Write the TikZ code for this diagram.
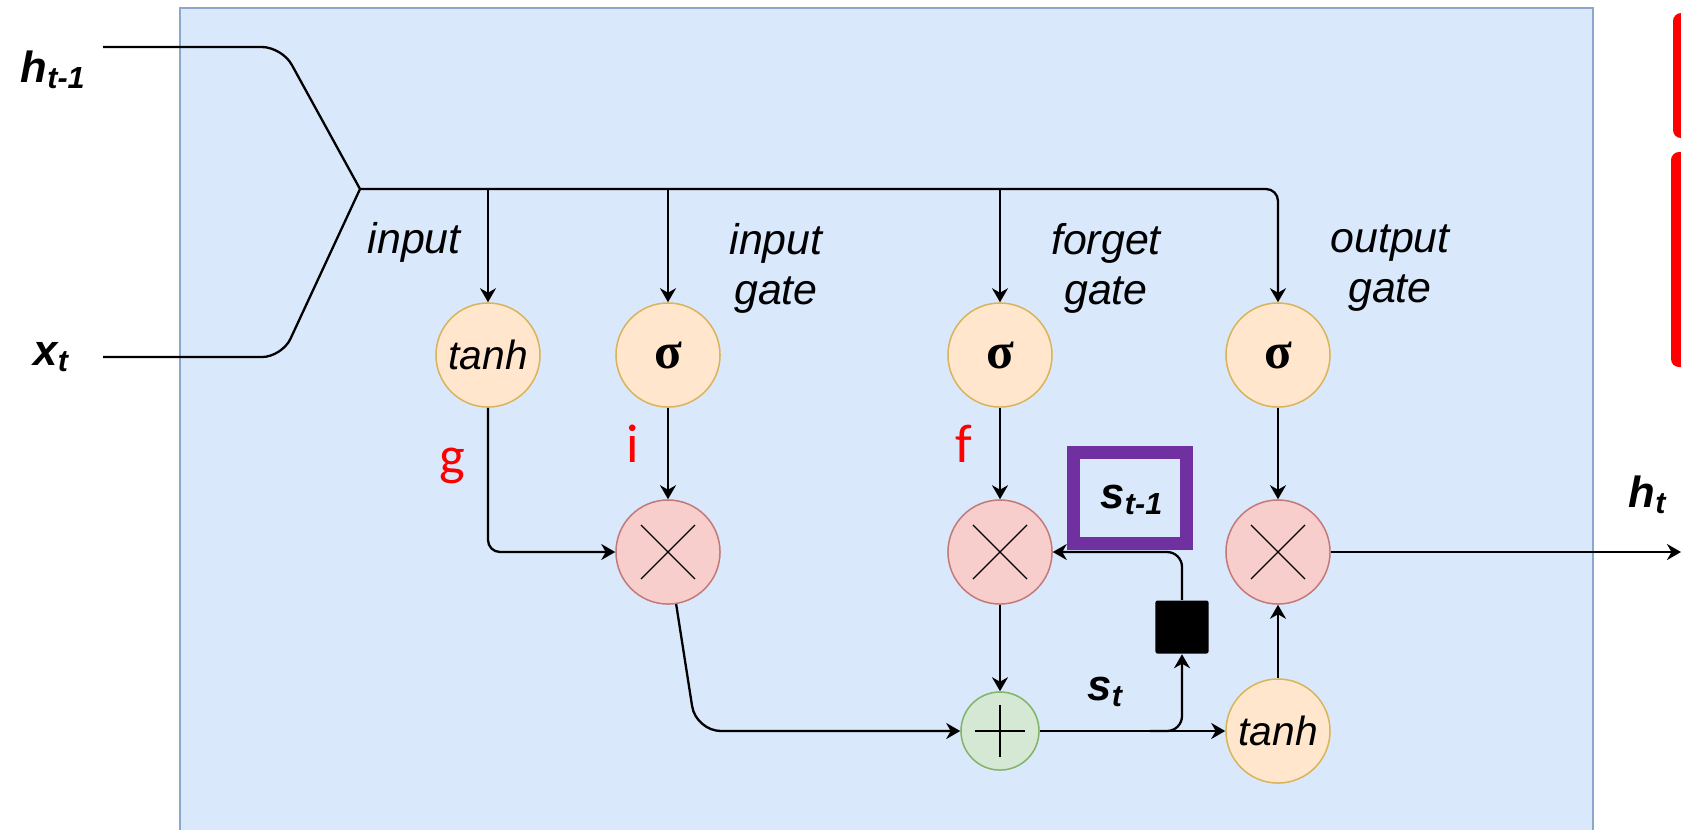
\documentclass[tikz,border=0pt]{standalone}
\usepackage{fontspec}
\setmainfont{Liberation Sans}
\newfontfamily\redfont{Carlito}
\newfontfamily\sigfont{Liberation Serif}
\usetikzlibrary{arrows.meta}
\definecolor{bgfill}{HTML}{DAE8FC}
\definecolor{bgdraw}{HTML}{8FA6CC}
\definecolor{orfill}{HTML}{FFE6CC}
\definecolor{ordraw}{HTML}{D9B45A}
\definecolor{rdfill}{HTML}{F8CECC}
\definecolor{rddraw}{HTML}{C27A78}
\definecolor{grfill}{HTML}{D5E8D4}
\definecolor{grdraw}{HTML}{82B366}
\definecolor{purp}{HTML}{7030A0}
\definecolor{redmark}{HTML}{FF0000}
\newcommand{\lbl}[2]{{\bfseries\itshape #1\textsubscript{#2}}}
\tikzset{
  line/.style={draw=black, line width=0.023cm},
  arr/.style={line, -{Stealth[length=0.14cm,width=0.16cm,inset=0.045cm]}},
  actnode/.style={circle, draw=ordraw, fill=orfill, line width=0.015cm, minimum size=1.04cm, inner sep=0pt, font=\fontsize{11.6}{14}\selectfont},
  signode/.style={actnode, font=\sigfont\bfseries\fontsize{14.5}{16}\selectfont},
  mulnode/.style={circle, draw=rddraw, fill=rdfill, line width=0.015cm, minimum size=1.04cm, inner sep=0pt,
    path picture={\draw[black, line width=0.012cm] (path picture bounding box.center) ++(-0.27cm,-0.27cm) -- ++(0.54cm,0.54cm)
      (path picture bounding box.center) ++(-0.27cm,0.27cm) -- ++(0.54cm,-0.54cm);}},
  addnode/.style={circle, draw=grdraw, fill=grfill, line width=0.015cm, minimum size=0.78cm, inner sep=0pt,
    path picture={\draw[black, line width=0.015cm] (path picture bounding box.center) ++(-0.25cm,0) -- ++(0.5cm,0)
      (path picture bounding box.center) ++(0,-0.26cm) -- ++(0,0.52cm);}},
  txt/.style={inner sep=0pt, font=\fontsize{12.2}{14.2}\selectfont\itshape},
  vartxt/.style={inner sep=0pt, font=\fontsize{12.4}{14}\selectfont},
  redtxt/.style={inner sep=0pt, text=redmark, font=\redfont\fontsize{15.5}{18}\selectfont},
}
\begin{document}
\begin{tikzpicture}[x=0.01cm,y=-0.01cm]
\useasboundingbox (0,0) rectangle (1681,829);
\fill[white] (0,0) rectangle (1681,829);
\clip (0,0) rectangle (1681,829);
% background cell
\path[fill=bgfill, draw=bgdraw, line width=0.02cm] (180,8) rectangle (1593,860);
% red bars at right edge
\fill[redmark, rounded corners=0.08cm] (1673,13) rectangle (1710,138);
\fill[redmark, rounded corners=0.08cm] (1671,152) rectangle (1710,367);

% inputs
\node[vartxt, anchor=base west] (hprev) at (20,82) {\lbl{h}{t-1}};
\node[vartxt, anchor=base west] (xt) at (33,365) {\lbl{x}{t}};
\coordinate (hin) at (103,47);
\coordinate (xin) at (103,357);
\coordinate (j) at (360,189);

% nodes
\node[actnode] (tanhA) at (488,355) {\itshape tanh};
\node[signode] (si) at (668,355) {σ};
\node[signode] (sf) at (1000,355) {σ};
\node[signode] (so) at (1278,355) {σ};
\node[mulnode] (mi) at (668,552) {};
\node[mulnode] (mf) at (1000,552) {};
\node[mulnode] (mo) at (1278,552) {};
\node[addnode] (plus) at (1000,731) {};
\node[actnode] (tanhB) at (1278,731) {\itshape tanh};
\node[fill=black, minimum size=0.53cm, inner sep=0pt, rounded corners=0.02cm] (sq) at (1182,627) {};

\coordinate (b1) at (488,189);
\coordinate (b2) at (668,189);
\coordinate (b3) at (1000,189);
\coordinate (br) at (1150,731);
\coordinate (hout) at (1681,552);
\coordinate (ci) at (696,731);

% connectors
\draw[line, rounded corners=0.2cm] (hin) -- (282,47) -- (j);
\draw[line, rounded corners=0.2cm] (xin) -- (282,357) -- (j);
\draw[arr, rounded corners=0.12cm] (j) -- (so |- j) -- (so);
\draw[arr] (b1) -- (tanhA);
\draw[arr] (b2) -- (si);
\draw[arr] (b3) -- (sf);
\draw[arr] (si) -- (mi);
\draw[arr] (sf) -- (mf);
\draw[arr] (so) -- (mo);
\draw[arr, rounded corners=0.12cm] (tanhA) -- (tanhA |- mi) -- (mi);
\draw[arr, rounded corners=0.25cm] (mi) -- (ci) -- (plus);
\draw[arr] (mf) -- (plus);
\draw[arr] (plus) -- (tanhB);
\draw[arr, rounded corners=0.15cm] (br) -- (sq |- br) -- (sq);
\draw[arr, rounded corners=0.15cm] (sq) -- (sq |- mf) -- (mf);
\draw[arr] (tanhB) -- (mo);
\draw[arr] (mo) -- (hout);

% s_{t-1} box
\node[draw=purp, line width=0.13cm, minimum width=1.13cm, minimum height=0.90cm, inner sep=0pt] (sbox) at (1130,498) {};
\node[vartxt, anchor=base west] (sprev) at (1100,508) {\lbl{s}{t-1}};
\node[vartxt, anchor=base west] (st) at (1087,700) {\lbl{s}{t}};
\node[vartxt, anchor=base west] (ht) at (1628,507) {\lbl{h}{t}};

% gate labels
\node[txt, anchor=base west] (linput) at (367,253) {input};
\node[txt, align=center] (lig) at (776,268) {input\\gate};
\node[txt, align=center] (lfg) at (1106,268) {forget\\gate};
\node[txt, align=center] (log) at (1390,268) {output\\gate};

% red letters
\node[redtxt, anchor=base west] (lg) at (439,474) {g};
\node[redtxt, anchor=base west] (li) at (626,462) {i};
\node[redtxt, anchor=base west] (lf) at (955,462) {f};
\end{tikzpicture}
\end{document}
